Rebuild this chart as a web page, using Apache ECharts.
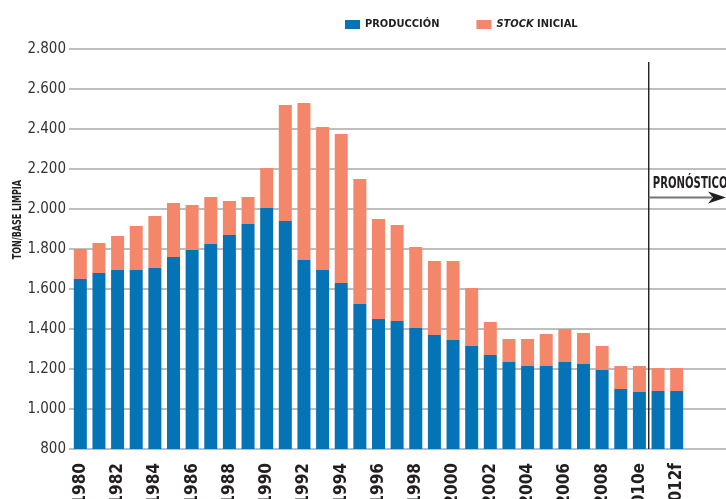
<!DOCTYPE html>
<html>
<head>
<meta charset="utf-8">
<script src="https://cdn.jsdelivr.net/npm/echarts@6/dist/echarts.min.js"></script>
<style>html,body{margin:0;padding:0;background:#fff}#c{width:726px;height:499px}</style>
</head>
<body>
<div id="c"></div>
<script>
const categories = ['1980','1981','1982','1983','1984','1985','1986','1987','1988','1989','1990','1991','1992','1993','1994','1995','1996','1997','1998','1999','2000','2001','2002','2003','2004','2005','2006','2007','2008','2009','2010e','2011f','2012f'];
const produccion = [1650,1680,1695,1695,1705,1760,1795,1825,1870,1925,2005,1940,1745,1695,1630,1525,1450,1440,1405,1370,1345,1315,1270,1235,1215,1215,1235,1225,1195,1100,1085,1090,1090];
const stockInicial = [150,150,170,220,260,270,225,235,170,135,200,580,785,715,745,625,500,480,405,370,395,290,165,115,135,160,165,155,120,115,130,115,115];
const yTicks = {min: 800, max: 2800, interval: 200};
const forecastStart = '2010e';
const forecastNext = '2011f';

const FONT = "'Liberation Sans Narrow', 'DejaVu Sans Condensed', 'Liberation Sans', sans-serif";
const DARK = '#231f20';
const BLUE = '#0474b6';
const ORANGE = '#f4866a';
const GRID = '#a9a9a9';

const chart = echarts.init(document.getElementById('c'), null, {renderer: 'canvas'});
function fmt(v){ return String(v).replace(/\B(?=(\d{3})+(?!\d))/g, '.'); }

const yName = {type: 'text', left: 12, top: 180, rotation: Math.PI / 2, scaleX: 0.74,
  style: {text: 'TON/BASE LIMPIA', fontFamily: FONT, fontWeight: 'bold', fontSize: 12, fill: DARK}};

chart.setOption({
  animation: false,
  legend: {
    top: 14, left: 340, icon: 'rect', itemWidth: 15, itemHeight: 9, itemGap: 37,
    data: ['PRODUCCIÓN', 'STOCK INICIAL'],
    formatter: n => n === 'STOCK INICIAL' ? '{i|STOCK} INICIAL' : n,
    textStyle: {fontFamily: FONT, fontWeight: 'bold', fontSize: 11, color: DARK,
      rich: {i: {fontFamily: FONT, fontWeight: 'bold', fontStyle: 'italic', fontSize: 11, color: DARK}}}
  },
  grid: [
    {left: 71, right: 40, top: 49, bottom: 50, outerBoundsMode: 'none', containLabel: false},
    {left: 69, right: 0, top: 49, bottom: 50, outerBoundsMode: 'none', containLabel: false}
  ],
  xAxis: [
    {type: 'category', gridIndex: 0, data: categories,
     axisLine: {show: false}, axisTick: {show: false},
     axisLabel: {interval: 1, rotate: 90, margin: 14, fontFamily: FONT, fontWeight: 'bold', fontSize: 17, color: DARK}},
    {type: 'value', gridIndex: 1, show: false, min: 0, max: 1}
  ],
  yAxis: [
    {type: 'value', gridIndex: 0, min: yTicks.min, max: yTicks.max, interval: yTicks.interval,
     axisLine: {show: false}, axisTick: {show: false}, splitLine: {show: false},
     axisLabel: {margin: 5, formatter: fmt, fontFamily: FONT, fontSize: 15, color: '#333'}},
    {type: 'value', gridIndex: 1, min: yTicks.min, max: yTicks.max, interval: yTicks.interval,
     axisLine: {show: false}, axisTick: {show: false}, axisLabel: {show: false},
     splitLine: {show: true, lineStyle: {color: GRID, width: 1.6}}}
  ],
  series: [
    {name: 'PRODUCCIÓN', type: 'bar', stack: 't', xAxisIndex: 0, yAxisIndex: 0, barWidth: 13,
     itemStyle: {color: BLUE}, data: produccion},
    {name: 'STOCK INICIAL', type: 'bar', stack: 't', xAxisIndex: 0, yAxisIndex: 0, barWidth: 13,
     itemStyle: {color: ORANGE}, data: stockInicial}
  ],
  graphic: [yName]
});

const c1 = chart.convertToPixel({xAxisIndex: 0}, forecastStart);
const c2 = chart.convertToPixel({xAxisIndex: 0}, forecastNext);
const bx = (c1 + c2) / 2;
const yTop = chart.convertToPixel({yAxisIndex: 0}, 2735);
const yBase = chart.convertToPixel({yAxisIndex: 0}, yTicks.min);
const yArr = chart.convertToPixel({yAxisIndex: 0}, 2058);
const W = chart.getWidth();

chart.setOption({
  graphic: [
    yName,
    {type: 'line', z: 10, shape: {x1: bx, y1: yTop, x2: bx, y2: yBase}, style: {stroke: DARK, lineWidth: 1.4}},
    {type: 'line', z: 10, shape: {x1: bx, y1: yArr, x2: W - 14, y2: yArr}, style: {stroke: '#777', lineWidth: 2}},
    {type: 'polygon', z: 10, shape: {points: [[W - 18, yArr - 6], [W, yArr], [W - 18, yArr + 6], [W - 13, yArr]]}, style: {fill: DARK}},
    {type: 'text', z: 10, x: bx + 4, y: yArr - 13, scaleX: 0.75,
     style: {text: 'PRONÓSTICO', fontFamily: FONT, fontWeight: 'bold', fontSize: 15, fill: DARK, textVerticalAlign: 'middle'}}
  ]
}, {replaceMerge: ['graphic']});
</script>
</body>
</html>
